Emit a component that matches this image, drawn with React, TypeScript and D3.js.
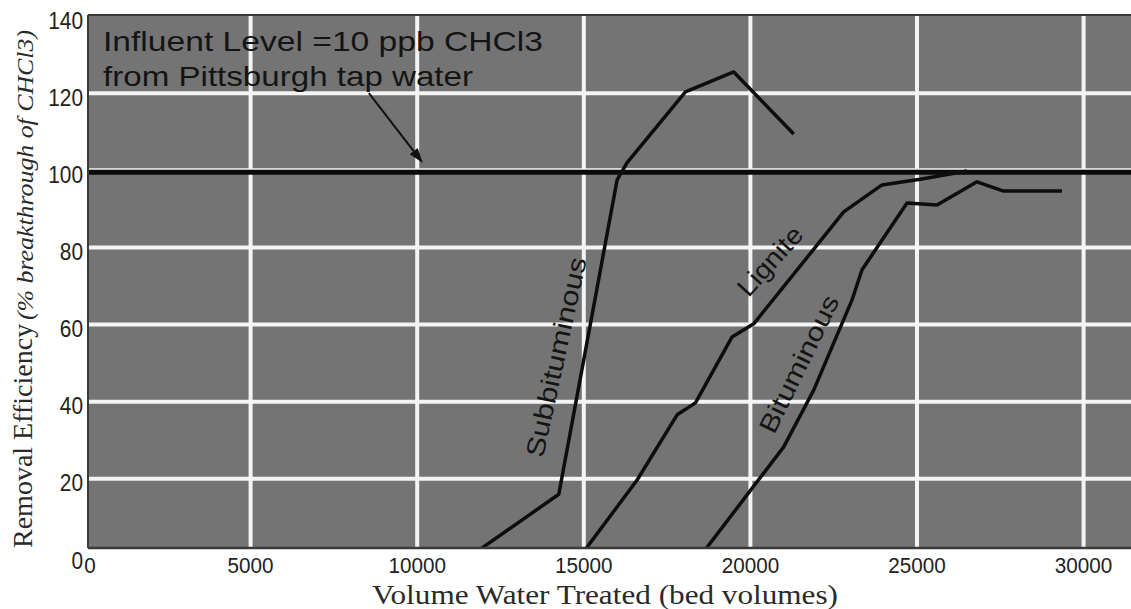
import React from 'react';
import * as d3 from 'd3';

// ---- data ----
const xTicks = [0, 5000, 10000, 15000, 20000, 25000, 30000];
const yTicks = [0, 20, 40, 60, 80, 100, 120, 140];
const influentLevel = 100;

const subbituminousX = [11600, 14250, 16000, 16300, 18050, 19500, 21300];
const subbituminousY = [0, 16, 97.5, 102, 120.3, 125.5, 109.4];

const ligniteX = [14900, 16600, 17800, 18350, 19450, 20100, 22800, 23950, 25100, 26500];
const ligniteY = [0, 19.7, 36.6, 39.7, 56.8, 60.2, 89.2, 96.2, 97.7, 99.8];

const bituminousX = [18500, 21000, 21900, 23050, 23350, 24700, 25600, 26800, 27600, 29350];
const bituminousY = [0, 28.3, 43, 66.4, 74.2, 91.5, 91, 97, 94.6, 94.6];

const W = 1131;
const H = 609;
const plotLeft = 88;
const plotTop = 15;
const plotRight = 1131;
const plotBottom = 548;

export default function App() {
  const x = d3.scaleLinear().domain([0, 30000]).range([84, 1083.6]);
  const y = d3.scaleLinear().domain([0, 140]).range([556, 16]);

  const line = d3
    .line<[number, number]>()
    .x((d) => x(d[0]))
    .y((d) => y(d[1]));

  const series = [
    { name: 'Subbituminous', xs: subbituminousX, ys: subbituminousY },
    { name: 'Lignite', xs: ligniteX, ys: ligniteY },
    { name: 'Bituminous', xs: bituminousX, ys: bituminousY },
  ];

  const sans = "'Liberation Sans', Arial, Helvetica, sans-serif";
  const serif = "'Liberation Serif', 'Times New Roman', serif";

  // arrow annotation (data coords)
  const arrowFrom: [number, number] = [8550, 120];
  const arrowTo: [number, number] = [10170, 101.9];
  const ax1 = x(arrowFrom[0]);
  const ay1 = y(arrowFrom[1]);
  const ax2 = x(arrowTo[0]);
  const ay2 = y(arrowTo[1]);
  const ang = Math.atan2(ay2 - ay1, ax2 - ax1);
  const headLen = 15;
  const headW = 5;
  const bx = ax2 - headLen * Math.cos(ang);
  const by = ay2 - headLen * Math.sin(ang);
  const head = [
    [ax2, ay2],
    [bx + headW * Math.sin(ang), by - headW * Math.cos(ang)],
    [bx - headW * Math.sin(ang), by + headW * Math.cos(ang)],
  ]
    .map((p) => p.join(','))
    .join(' ');

  const curveLabels = [
    { text: 'Subbituminous', cx: 556, cy: 357, angle: -77.6, len: 204 },
    { text: 'Lignite', cx: 770, cy: 261, angle: -48, len: 84 },
    { text: 'Bituminous', cx: 799, cy: 364, angle: -64, len: 150 },
  ];

  return (
    <svg
      width={W}
      height={H}
      style={{ position: 'absolute', left: 0, top: 0, background: '#fff' }}
    >
      <defs>
        <clipPath id="plotClip">
          <rect x={plotLeft} y={plotTop} width={plotRight - plotLeft} height={plotBottom - plotTop} />
        </clipPath>
      </defs>

      {/* plot background */}
      <rect
        x={plotLeft}
        y={plotTop}
        width={plotRight - plotLeft}
        height={plotBottom - plotTop}
        fill="#747474"
      />

      <g clipPath="url(#plotClip)">
        {/* grid */}
        {xTicks
          .filter((t) => t > 0)
          .map((t) => (
            <line
              key={'gx' + t}
              x1={x(t)}
              x2={x(t)}
              y1={plotTop}
              y2={plotBottom}
              stroke="#f4f4f4"
              strokeWidth={4}
            />
          ))}
        {yTicks
          .filter((t) => t > 0 && t < 140)
          .map((t) => (
            <line
              key={'gy' + t}
              x1={plotLeft}
              x2={plotRight}
              y1={y(t)}
              y2={y(t)}
              stroke="#f4f4f4"
              strokeWidth={4}
            />
          ))}

        {/* influent level line */}
        <line
          x1={plotLeft}
          x2={plotRight}
          y1={y(influentLevel) + 2}
          y2={y(influentLevel) + 2}
          stroke="#0a0a0a"
          strokeWidth={5}
        />

        {series.map((s) => (
          <path
            key={s.name}
            d={line(s.xs.map((v, i) => [v, s.ys[i]] as [number, number])) || ''}
            fill="none"
            stroke="#0d0d0d"
            strokeWidth={3.5}
            strokeLinejoin="round"
          />
        ))}

        {/* arrow */}
        <line x1={ax1} y1={ay1} x2={bx} y2={by} stroke="#111" strokeWidth={2} />
        <polygon points={head} fill="#111" />
      </g>

      {/* frame */}
      <line x1={plotLeft} x2={plotRight} y1={plotTop} y2={plotTop} stroke="#3a3a3a" strokeWidth={2} />
      <line x1={plotLeft} x2={plotLeft} y1={plotTop} y2={plotBottom} stroke="#3a3a3a" strokeWidth={2} />
      <line x1={plotLeft} x2={plotRight} y1={plotBottom} y2={plotBottom} stroke="#3a3a3a" strokeWidth={2.5} />

      {/* annotation text */}
      <text x={103} y={51} fontFamily={sans} fontSize={28} fill="#141414" textLength={440} lengthAdjust="spacingAndGlyphs">
        Influent Level =10 ppb CHCl3
      </text>
      <text x={103} y={86} fontFamily={sans} fontSize={28} fill="#141414" textLength={370} lengthAdjust="spacingAndGlyphs">
        from Pittsburgh tap water
      </text>

      {/* curve labels */}
      {curveLabels.map((c) => (
        <text
          key={c.text}
          transform={`translate(${c.cx},${c.cy}) rotate(${c.angle})`}
          textAnchor="middle"
          dominantBaseline="central"
          fontFamily={sans}
          fontSize={26}
          fill="#141414"
          textLength={c.len}
          lengthAdjust="spacingAndGlyphs"
        >
          {c.text}
        </text>
      ))}

      {/* y tick labels */}
      {yTicks.map((t) => (
        <text
          key={'ty' + t}
          x={83}
          y={y(t) + 4}
          textAnchor="end"
          dominantBaseline="central"
          fontFamily={sans}
          fontSize={24}
          fill="#222"
          textLength={String(t).length * 11.6}
          lengthAdjust="spacingAndGlyphs"
        >
          {t}
        </text>
      ))}

      {/* x tick labels */}
      {xTicks.map((t) => (
        <text
          key={'tx' + t}
          x={x(t) + (t === 0 ? 6 : 0)}
          y={573}
          textAnchor="middle"
          fontFamily={sans}
          fontSize={22}
          fill="#222"
          textLength={String(t).length * 11.5}
          lengthAdjust="spacingAndGlyphs"
        >
          {t}
        </text>
      ))}

      {/* axis titles */}
      <text
        x={605}
        y={604}
        textAnchor="middle"
        fontFamily={serif}
        fontSize={28}
        fill="#2a2a2a"
        textLength={466}
        lengthAdjust="spacingAndGlyphs"
      >
        Volume Water Treated (bed volumes)
      </text>
      <text transform="translate(32,548) rotate(-90)" fontFamily={serif} fontSize={28} fill="#2a2a2a">
        Removal Efficiency
      </text>
      <text
        transform="translate(33,320) rotate(-90)"
        fontFamily={serif}
        fontSize={24}
        fontStyle="italic"
        fill="#2a2a2a"
        textLength={290}
        lengthAdjust="spacingAndGlyphs"
      >
        (% breakthrough of CHCl3)
      </text>
    </svg>
  );
}
